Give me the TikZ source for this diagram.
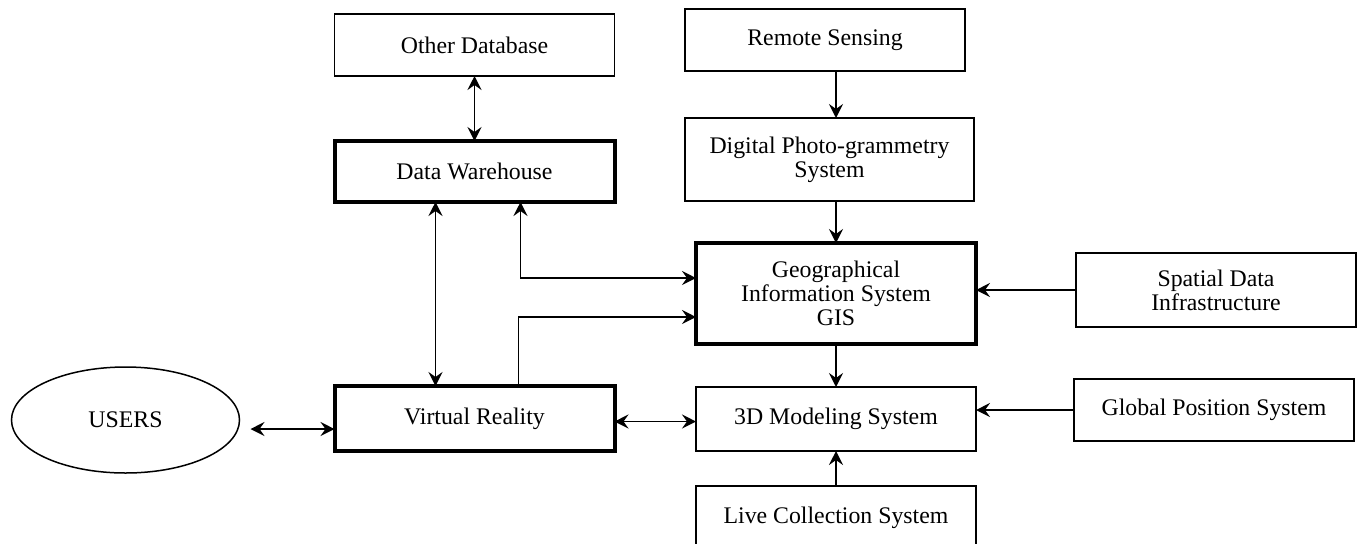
\documentclass[tikz,border=0pt]{standalone}
\usepackage{fontspec}
\setmainfont{Liberation Serif}
\usepackage{tikz}
\usetikzlibrary{shapes.geometric,arrows.meta,positioning,calc}
\definecolor{ink}{HTML}{000000}
\tikzset{
  box/.style={rectangle, draw=ink, line width=0.75pt, fill=white, outer sep=0pt,
              minimum height=31pt, minimum width=140pt, align=center,
              font=\fontsize{11.9}{12}\selectfont, inner sep=2pt},
  core/.style={box, line width=2pt},
  usr/.style={ellipse, draw=ink, line width=0.75pt, outer sep=0pt, minimum width=114pt,
              minimum height=53pt, font=\fontsize{11.9}{12}\selectfont},
  fl/.style={-{Stealth[length=7pt,width=7pt,inset=2.5pt]}, draw=ink, line width=0.8pt},
  bi/.style={{Stealth[length=7pt,width=7pt,inset=2.5pt]}-{Stealth[length=7pt,width=7pt,inset=2.5pt]},
             draw=ink, line width=0.8pt},
}

\begin{document}
\begin{tikzpicture}
\clip (0,0) rectangle (681pt,-271.5pt);

% --- warehouse column ---------------------------------------------------
\node[box] (odb) at (237.25pt,-22.5pt) {Other Database};
\node[core, minimum height=30.5pt, below=32.5pt of odb] (dw) {Data Warehouse};
\node[core, minimum height=32.5pt, below=92pt of dw] (vr) {Virtual Reality};
\node[usr, left=47.5pt of vr, yshift=-0.75pt] (users) {USERS};

% --- acquisition column -------------------------------------------------
\node[box] (rs) at (412.5pt,-20pt) {Remote Sensing};
\node[box, minimum width=144.5pt, minimum height=41.5pt, below=23.5pt of rs, xshift=2.25pt] (dps)
  {Digital Photo-grammetry\\System};
\node[core, minimum height=50.5pt, below=21pt of dps, xshift=3.25pt] (gis)
  {Geographical\\Information System\\GIS};
\node[box, minimum height=32pt, below=21.5pt of gis] (m3d) {3D Modeling System};
\node[box, minimum height=32pt, below=17.5pt of m3d] (live) {Live Collection System};

% --- side sources -------------------------------------------------------
\node[box, minimum height=37pt, right=50pt of gis, yshift=1.75pt] (sdi)
  {Spatial Data\\Infrastructure};
\node[box, right=49pt of m3d, yshift=4.5pt] (gps) {Global Position System};

% --- connectors ---------------------------------------------------------
\draw[bi] (dw.north) -- (dw.north |- odb.south);
\draw[bi] ([xshift=-19.5pt]dw.south) -- ([xshift=-19.5pt]dw.south |- vr.north);
\draw[bi] ([xshift=23pt]dw.south) |- ([yshift=7.75pt]gis.west);
\draw[fl] ([xshift=22pt]vr.north) |- ([yshift=-11.75pt]gis.west);
\draw[bi] ([shift={(5.5pt,-4.5pt)}]users.east) coordinate (u) -- (u -| vr.west);
\draw[bi] ([yshift=-1.5pt]vr.east) coordinate (v) -- (v -| m3d.west);

\draw[fl] (gis.north |- rs.south) -- (gis.north |- dps.north);
\draw[fl] (gis.north |- dps.south) -- (gis.north);
\draw[fl] (gis.south) -- (m3d.north);
\draw[fl] (live.north) -- (m3d.south);
\draw[fl] (sdi.west) -- (sdi.west -| gis.east);
\draw[fl] (gps.west) -- (gps.west -| m3d.east);
\end{tikzpicture}
\end{document}
